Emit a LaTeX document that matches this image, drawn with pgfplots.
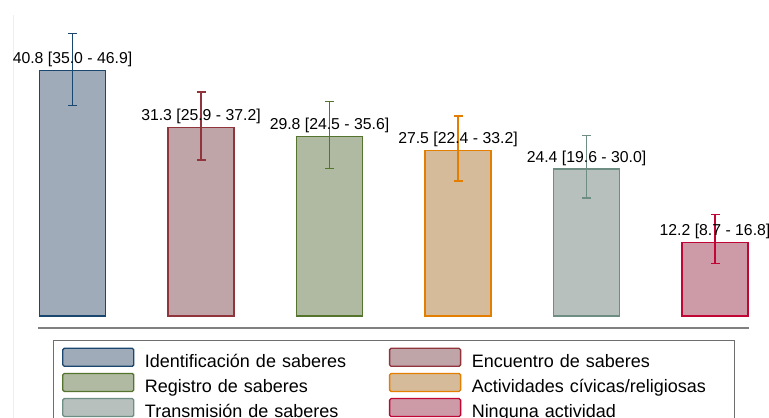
\documentclass[border=0pt]{standalone}
\usepackage{pgfplots}
\usepackage{pgfplotstable}
\pgfplotsset{compat=1.18}
\usepackage{fontspec}
\setmainfont{Liberation Sans}
\definecolor{e1}{HTML}{1A476F}\definecolor{f1}{HTML}{A0ABB9}
\definecolor{e2}{HTML}{90353B}\definecolor{f2}{HTML}{BFA4A8}
\definecolor{e3}{HTML}{55752F}\definecolor{f3}{HTML}{B0BAA2}
\definecolor{e4}{HTML}{E37E00}\definecolor{f4}{HTML}{D6BB9A}
\definecolor{e5}{HTML}{6E8E84}\definecolor{f5}{HTML}{B7C0BD}
\definecolor{e6}{HTML}{C10534}\definecolor{f6}{HTML}{CD9AA7}
\definecolor{faint}{HTML}{EAF0F0}
\definecolor{axgray}{HTML}{808080}
\definecolor{leggray}{HTML}{6E6E6E}
\pgfplotsset{
  barsty/.style={draw=#1, line width=1.3bp,
    error bars/error bar style={line width=1.3bp, color=#1},
    error bars/error mark options={rotate=90, mark size=4.5bp, line width=1.3bp, color=#1}},
}
\pgfplotstableread[col sep=comma]{
x,y,lo,hi,label
0,40.8,35.0,46.9,40.8 [35.0 - 46.9]
}\dA
\pgfplotstableread[col sep=comma]{
x,y,lo,hi,label
1,31.3,25.9,37.2,31.3 [25.9 - 37.2]
}\dB
\pgfplotstableread[col sep=comma]{
x,y,lo,hi,label
2,29.8,24.5,35.6,29.8 [24.5 - 35.6]
}\dC
\pgfplotstableread[col sep=comma]{
x,y,lo,hi,label
3,27.5,22.4,33.2,27.5 [22.4 - 33.2]
}\dD
\pgfplotstableread[col sep=comma]{
x,y,lo,hi,label
4,24.4,19.6,30.0,24.4 [19.6 - 30.0]
}\dE
\pgfplotstableread[col sep=comma]{
x,y,lo,hi,label
5,12.2,8.7,16.8,12.2 [8.7 - 16.8]
}\dF
\begin{document}
\begin{tikzpicture}
\path[use as bounding box] (0bp,0bp) rectangle (769bp,418bp);
\clip (0bp,0bp) rectangle (769bp,418bp);
\draw[color=faint, line width=1bp] (13bp,403bp) -- (13bp,0bp);
\begin{axis}[
  at={(38bp,90bp)}, anchor=south west, scale only axis,
  width=711bp, height=318bp,
  xmin=-0.2685, xmax=5.2646, ymin=-2, ymax=50.82,
  hide axis, clip=false,
  ybar, bar width=0.5136, bar shift=0pt,
  nodes near coords, point meta=explicit symbolic,
  every node near coord/.append style={font=\fontsize{15.8bp}{18bp}\selectfont,
    text=black, inner sep=0pt, yshift=3bp},
  error bars/y dir=both, error bars/y explicit,
  legend columns=2, legend cell align=left,
  legend image code/.code={\draw[#1, rounded corners=1.5bp] (0bp,-3.5bp) rectangle (71bp,14.5bp);},
  legend style={at={(0.0211,-0.0377)}, anchor=north west,
    draw=leggray, line width=1.3bp, inner xsep=8.5bp, inner ysep=7bp,
    font=\fontsize{18bp}{20bp}\selectfont, row sep=1.5bp,
    nodes={inner sep=0pt, text height=13bp, text depth=4bp},
    /tikz/every odd column/.append style={column sep=10.5bp},
    /tikz/column 2/.style={text width=244bp},
    /tikz/column 4/.style={text width=254bp}},
]
\addplot[barsty=e1, fill=f1] table[x=x, y=y, meta=label, y error plus expr=\thisrow{hi}-\thisrow{y}, y error minus expr=\thisrow{y}-\thisrow{lo}] {\dA};
\addlegendentry{Identificación de saberes}
\addplot[barsty=e2, fill=f2] table[x=x, y=y, meta=label, y error plus expr=\thisrow{hi}-\thisrow{y}, y error minus expr=\thisrow{y}-\thisrow{lo}] {\dB};
\addlegendentry{Encuentro de saberes}
\addplot[barsty=e3, fill=f3] table[x=x, y=y, meta=label, y error plus expr=\thisrow{hi}-\thisrow{y}, y error minus expr=\thisrow{y}-\thisrow{lo}] {\dC};
\addlegendentry{Registro de saberes}
\addplot[barsty=e4, fill=f4] table[x=x, y=y, meta=label, y error plus expr=\thisrow{hi}-\thisrow{y}, y error minus expr=\thisrow{y}-\thisrow{lo}] {\dD};
\addlegendentry{Actividades cívicas/religiosas}
\addplot[barsty=e5, fill=f5] table[x=x, y=y, meta=label, y error plus expr=\thisrow{hi}-\thisrow{y}, y error minus expr=\thisrow{y}-\thisrow{lo}] {\dE};
\addlegendentry{Transmisión de saberes}
\addplot[barsty=e6, fill=f6] table[x=x, y=y, meta=label, y error plus expr=\thisrow{hi}-\thisrow{y}, y error minus expr=\thisrow{y}-\thisrow{lo}] {\dF};
\addlegendentry{Ninguna actividad}
\draw[axgray, line width=2.2bp] (rel axis cs:0,0) -- (rel axis cs:1,0);
\end{axis}
\end{tikzpicture}
\end{document}
